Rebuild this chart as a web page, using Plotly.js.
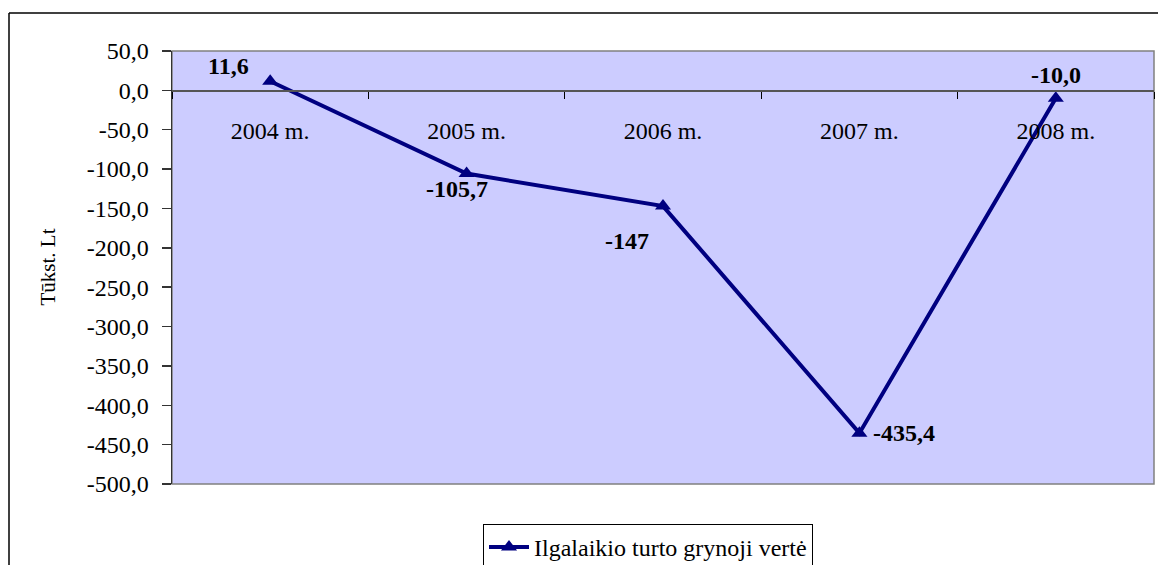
<!DOCTYPE html>
<html><head><meta charset="utf-8">
<script src="https://cdn.plot.ly/plotly-3.0.1.min.js"></script>
<style>html,body{margin:0;padding:0;background:#fff}#c{width:1158px;height:565px}</style>
</head><body><div id="c"></div>
<script>
const categories = ["2004 m.", "2005 m.", "2006 m.", "2007 m.", "2008 m."];
const values = [11.6, -105.7, -147, -435.4, -10.0];
const labels = ["11,6", "-105,7", "-147", "-435,4", "-10,0"];
const yTicks = [50, 0, -50, -100, -150, -200, -250, -300, -350, -400, -450, -500];
const seriesName = "Ilgalaikio turto grynoji vertė";
const yTitle = "Tūkst. Lt";

const labelStyle = [
  {xanchor: "right", yanchor: "bottom", xshift: -19, yshift: 0},
  {xanchor: "center", yanchor: "top", xshift: -10, yshift: 0},
  {xanchor: "center", yanchor: "top", xshift: -36, yshift: -20},
  {xanchor: "left", yanchor: "middle", xshift: 12, yshift: 0},
  {xanchor: "center", yanchor: "bottom", xshift: 0, yshift: 8}
];

const font = "Liberation Serif";
const L = 172, R = 4, T = 51, B = 81, W = 1158, H = 565;
const pw = W - L - R, ph = H - T - B;
const px = v => (v - L) / pw;
const py = v => (H - B - v) / ph;

const annotations = values.map((v, i) => Object.assign({
  x: categories[i], y: v, xref: "x", yref: "y", text: "<b>" + labels[i] + "</b>", showarrow: false,
  font: {family: font, size: 24, color: "#000"}
}, labelStyle[i]));
annotations.push({
  xref: "paper", yref: "paper", x: px(47), y: 0.5, xanchor: "center", yanchor: "middle",
  text: yTitle, textangle: -90, showarrow: false,
  font: {family: font, size: 21, color: "#000"}
});

const trace = {
  x: categories, y: values, type: "scatter", mode: "lines+markers", name: seriesName,
  line: {color: "#000080", width: 4},
  marker: {symbol: "triangle-up", size: 14, color: "#000080"}
};

const layout = {
  width: W, height: H,
  margin: {l: L, r: R, t: T, b: B, pad: 0, autoexpand: false},
  paper_bgcolor: "#fff", plot_bgcolor: "#CCCCFF",
  font: {family: font, size: 22, color: "#000"},
  showlegend: true,
  legend: {
    xref: "container", yref: "container",
    x: 483 / W, y: (H - 524) / H, xanchor: "left", yanchor: "top",
    bordercolor: "#000", borderwidth: 1, bgcolor: "#fff",
    font: {family: font, size: 24, color: "#000"},
    itemwidth: 40, tracegroupgap: 0
  },
  xaxis: {
    type: "category", range: [-0.5, 4.5], anchor: "free", position: 500 / 550,
    showline: true, linecolor: "#555", linewidth: 1.5,
    ticks: "outside", ticklen: 7, tickcolor: "#000", tickwidth: 1, tickson: "boundaries",
    showgrid: false, zeroline: false, ticklabelstandoff: 18,
    tickfont: {family: font, size: 24, color: "#000"}
  },
  yaxis: {
    range: [-500, 50], tickmode: "array", tickvals: yTicks,
    ticktext: yTicks.map(v => v.toFixed(1).replace(".", ",")),
    showline: true, linecolor: "#333", linewidth: 1.5,
    ticks: "outside", ticklen: 9, tickcolor: "#333", tickwidth: 1.5,
    showgrid: false, zeroline: false, ticklabelstandoff: 8,
    tickfont: {family: font, size: 24, color: "#000"}
  },
  annotations: annotations,
  shapes: [
    {type: "rect", xref: "paper", yref: "paper", x0: 0, x1: 1, y0: 0, y1: 1,
     line: {color: "#808080", width: 1.5}, layer: "below"},
    {type: "line", xref: "paper", yref: "paper", x0: px(9), x1: px(1158), y0: py(13), y1: py(13),
     line: {color: "#000", width: 1.5}},
    {type: "line", xref: "paper", yref: "paper", x0: px(9), x1: px(9), y0: py(13), y1: py(566),
     line: {color: "#000", width: 1.5}}
  ]
};

Plotly.newPlot("c", [trace], layout, {displayModeBar: false, staticPlot: true});
</script></body></html>
